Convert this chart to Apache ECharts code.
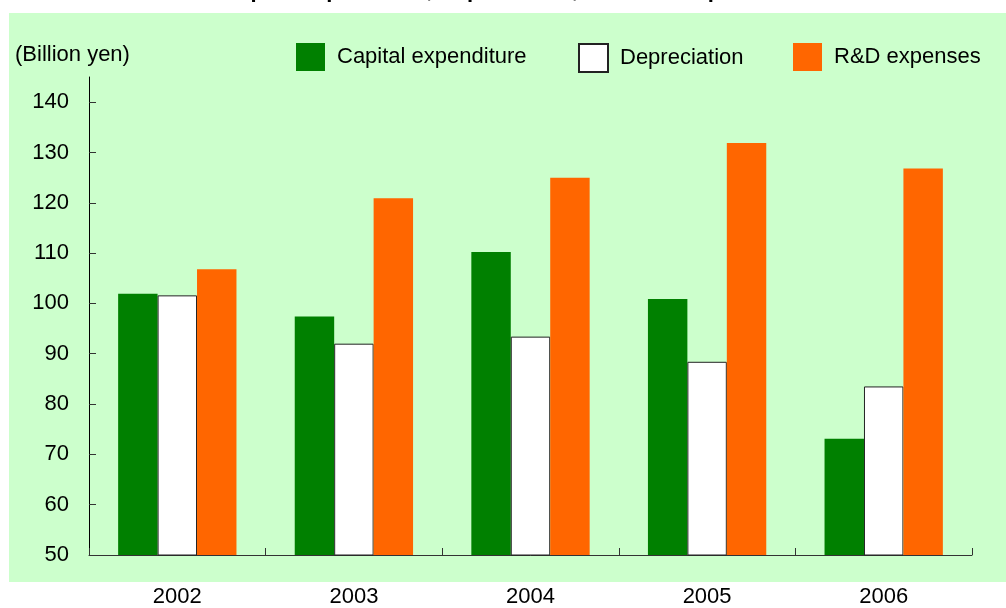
<!DOCTYPE html>
<html>
<head>
<meta charset="utf-8">
<style>
  html, body { margin: 0; padding: 0; background: #fff; }
  #chart { width: 1006px; height: 608px; }
</style>
<script src="https://cdn.jsdelivr.net/npm/echarts@6/dist/echarts.min.js"></script>
</head>
<body>
<div id="chart"></div>
<script>
const years = ["2002", "2003", "2004", "2005", "2006"];
const capex = [101.9, 97.4, 110.2, 100.9, 73.1];
const depreciation = [101.6, 92.0, 93.4, 88.4, 83.5];
const rnd = [106.8, 120.9, 125.0, 131.9, 126.8];
const yTicks = [50, 60, 70, 80, 90, 100, 110, 120, 130, 140];

const FONT = "Liberation Sans, Arial, sans-serif";

const chart = echarts.init(document.getElementById("chart"));

function legendAt(left, name) {
  return {
    left: left,
    top: 43,
    padding: 0,
    itemWidth: 29,
    itemHeight: 28,
    icon: "rect",
    selectedMode: false,
    data: [name],
    textStyle: {
      fontFamily: FONT,
      fontSize: 22,
      color: "#000",
      padding: [2, 0, 0, 7],
    },
  };
}

chart.setOption({
  animation: false,
  graphic: [
    {
      type: "rect",
      z: -10,
      shape: { x: 9, y: 13, width: 997, height: 569 },
      style: { fill: "#ccffcc" },
    },
    {
      type: "text",
      left: "center",
      y: 2,
      style: {
        text: "Capital expenditure, Depreciation, and R&D expenses",
        font: "bold 22px " + FONT,
        fill: "#000",
        verticalAlign: "bottom",
      },
    },
    {
      type: "text",
      x: 15,
      y: 55,
      style: {
        text: "(Billion yen)",
        font: "22px " + FONT,
        fill: "#000",
        verticalAlign: "middle",
      },
    },
  ],
  legend: [
    legendAt(296, "Capital expenditure"),
    legendAt(578, "Depreciation"),
    legendAt(793, "R&D expenses"),
  ],
  grid: {
    left: 89,
    right: 34,
    top: 77,
    bottom: 51,
    containLabel: false,
  },
  xAxis: {
    type: "category",
    data: years,
    axisLine: { lineStyle: { color: "#333", width: 1 } },
    axisTick: { show: true, inside: true, length: 7, lineStyle: { color: "#333" } },
    axisLabel: {
      margin: 31,
      fontFamily: FONT,
      fontSize: 22,
      color: "#000",
    },
  },
  yAxis: {
    type: "value",
    min: 50,
    max: 145,
    interval: 10,
    axisLine: { show: true, lineStyle: { color: "#000", width: 1 } },
    axisTick: {
      show: true,
      inside: true,
      length: 7,
      customValues: yTicks,
      lineStyle: { color: "#333" },
    },
    axisLabel: {
      margin: 20,
      customValues: yTicks,
      fontFamily: FONT,
      fontSize: 22,
      color: "#000",
    },
    splitLine: { show: false },
  },
  series: [
    {
      name: "Capital expenditure",
      type: "bar",
      data: capex,
      barGap: "0%",
      barCategoryGap: "33%",
      itemStyle: { color: "#008000" },
    },
    {
      name: "Depreciation",
      type: "bar",
      data: depreciation,
      barGap: "0%",
      barCategoryGap: "33%",
      itemStyle: { color: "#ffffff", borderColor: "#222", borderWidth: 1 },
    },
    {
      name: "R&D expenses",
      type: "bar",
      data: rnd,
      barGap: "0%",
      barCategoryGap: "33%",
      itemStyle: { color: "#ff6600" },
    },
  ],
});
</script>
</body>
</html>
